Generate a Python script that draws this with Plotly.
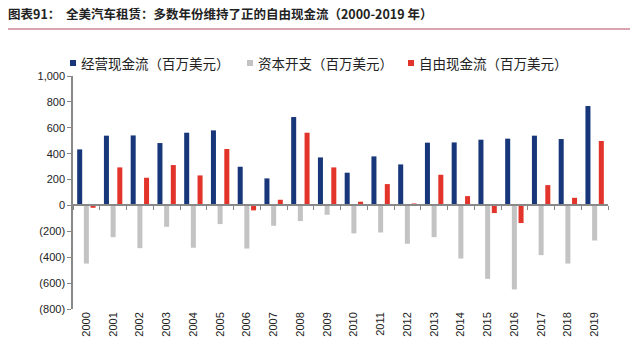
import plotly.graph_objects as go

years = [str(y) for y in range(2000, 2020)]
operating_cf = [433, 539, 541, 482, 562, 580, 299, 209, 683, 371,
                253, 379, 317, 485, 487, 508, 516, 539, 513, 768]
capex = [-449, -245, -330, -165, -327, -144, -333, -157, -121, -72,
         -216, -209, -296, -245, -410, -567, -649, -384, -449, -271]
free_cf = [-18, 294, 214, 312, 232, 436, -38, 44, 562, 294,
           29, 165, 15, 237, 72, -59, -136, 157, 59, 498]

names = ["经营现金流（百万美元）", "资本开支（百万美元）", "自由现金流（百万美元）"]
colors = ["#17377a", "#c3c3c3", "#e3342b"]
tickvals = [1000, 800, 600, 400, 200, 0, -200, -400, -600, -800]
ticktext = ["1,000", "800", "600", "400", "200", "0", "(200)", "(400)", "(600)", "(800)"]

# plot area geometry (px)
L, R, T, B = 73, 32, 76, 44
W, H = 640, 353
pw, ph = W - L - R, H - T - B


def px(xp):
    return (xp - L) / pw


def py(yp):
    return 1 + (T - yp) / ph


ymin, ymax = -800, 1000
fig = go.Figure()
for vals, nm, c in zip([operating_cf, capex, free_cf], names, colors):
    fig.add_trace(go.Bar(x=years, y=vals, name=nm, marker=dict(color=c, line_width=0)))
fig.add_trace(go.Scatter(x=years, y=[0]*len(years), xaxis="x2", mode="none",
                         showlegend=False, hoverinfo="skip"))

axis_font = dict(family="Liberation Sans, Arial", size=11, color="#222")
fig.update_layout(
    width=W, height=H,
    margin=dict(l=L, r=R, t=T, b=B),
    paper_bgcolor="white", plot_bgcolor="white",
    barmode="group", bargap=0.25, bargroupgap=0.25,
    showlegend=False,
    xaxis=dict(type="category", categoryarray=years, range=[-0.5, 19.5],
               showline=False, ticks="", tickangle=-90, showgrid=False,
               tickfont=dict(family="Liberation Sans, Arial", size=11, color="#222")),
    xaxis2=dict(type="category", categoryarray=years, range=[-0.5, 19.5],
                overlaying="x", anchor="free", position=(0 - ymin) / (ymax - ymin),
                showline=True, linecolor="#888", linewidth=1.5,
                ticks="outside", ticklen=4, tickcolor="#888", tickson="boundaries",
                showticklabels=False, showgrid=False),
    yaxis=dict(range=[ymin, ymax], tickvals=tickvals, ticktext=ticktext,
               showline=True, linecolor="#888", linewidth=1.5,
               ticks="outside", ticklen=4, tickcolor="#888",
               showgrid=False, zeroline=False, tickfont=axis_font),
)

# title and rule
fig.add_annotation(xref="paper", yref="paper", x=px(6), y=py(14),
                   xanchor="left", yanchor="middle", showarrow=False,
                   text="<b>图表91：  全美汽车租赁：多数年份维持了正的自由现金流（2000-2019 年）</b>",
                   font=dict(family="Noto Sans CJK SC", size=12.5, color="#222"))
fig.add_shape(type="line", xref="paper", yref="paper",
              x0=px(8), x1=px(630), y0=py(29), y1=py(29),
              line=dict(color="#d9a4ad", width=2))

# custom legend
leg_x = [70, 247, 408]
leg_y = 63
for xm, nm, c in zip(leg_x, names, colors):
    fig.add_shape(type="rect", xref="paper", yref="paper",
                  x0=px(xm), x1=px(xm + 6), y0=py(leg_y + 3), y1=py(leg_y - 3),
                  fillcolor=c, line_width=0)
    fig.add_annotation(xref="paper", yref="paper", x=px(xm + 9), y=py(leg_y),
                       xanchor="left", yanchor="middle", showarrow=False, text=nm,
                       font=dict(family="Noto Sans CJK SC", size=13.5, color="#222"))

fig.write_html("out.html")
